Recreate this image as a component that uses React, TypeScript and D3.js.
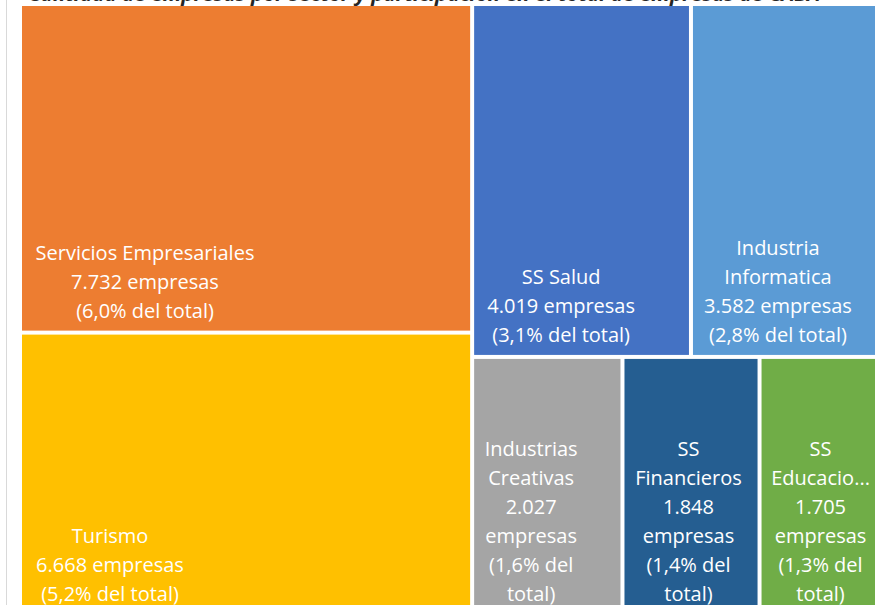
import React from "react";
import * as d3 from "d3";

const categories = [
  "Servicios Empresariales",
  "Turismo",
  "SS Salud",
  "Industria Informatica",
  "Industrias Creativas",
  "SS Financieros",
  "SS Educación",
];
const values = [7732, 6668, 4019, 3582, 2027, 1848, 1705];
const shares = [6.0, 5.2, 3.1, 2.8, 1.6, 1.4, 1.3];
const nameLines = [
  ["Servicios Empresariales"],
  ["Turismo"],
  ["SS Salud"],
  ["Industria", "Informatica"],
  ["Industrias", "Creativas"],
  ["SS", "Financieros"],
  ["SS", "Educacio..."],
];
const colors = ["#ED7D31", "#FFC000", "#4472C4", "#5B9BD5", "#A5A5A5", "#255E91", "#70AD47"];
const labelDx = [123, 88, 87, 85, 57, 64, 59];
const title = "Cantidad de empresas por sector y participación en el total de empresas de CABA";

const W = 875;
const H = 605;
const X0 = 22;
const Y0 = 6;
const TW = 862;
const TH = 608;
const LINE = 29;

const loc = d3.formatLocale({ decimal: ",", thousands: ".", grouping: [3], currency: ["$", ""] });
const fmtInt = loc.format(",d");
const fmtPct = loc.format(".1f");

export default function App() {
  const data = categories.map((c, i) => ({ name: c, value: values[i], idx: i }));
  const root = d3
    .hierarchy<any>({ children: data })
    .sum((d: any) => d.value || 0)
    .sort((a, b) => (b.value || 0) - (a.value || 0));
  d3.treemap<any>().tile(d3.treemapSquarify.ratio(1)).size([TW, TH]).paddingInner(4)(root);
  const leaves = root.leaves() as any[];

  return (
    <svg
      width={W}
      height={H}
      style={{ position: "absolute", left: 0, top: 0, background: "#fff", fontFamily: "'Open Sans', Lato, sans-serif" }}
    >
      <rect x={0} y={0} width={W} height={H} fill="#fff" />
      <line x1={6.5} x2={6.5} y1={0} y2={H} stroke="#d9d9d9" strokeWidth={1} />
      <text
        x={28}
        y={0.5}
        fontSize={20}
        fontStyle="italic"
        fontWeight="bold"
        fill="#262626"
        textLength={792}
        lengthAdjust="spacingAndGlyphs"
      >
        {title}
      </text>
      <g transform={`translate(${X0},${Y0})`}>
        {leaves.map((n) => {
          const i = n.data.idx;
          const w = n.x1 - n.x0;
          const vLines =
            w < 160
              ? [fmtInt(values[i]), "empresas", `(${fmtPct(shares[i])}% del`, "total)"]
              : [`${fmtInt(values[i])} empresas`, `(${fmtPct(shares[i])}% del total)`];
          const lines = [...nameLines[i], ...vLines];
          const lastBase = Math.min(n.y1, TH) - 13;
          const cx = n.x0 + labelDx[i];
          return (
            <g key={i}>
              <rect x={n.x0} y={n.y0} width={w} height={n.y1 - n.y0} fill={colors[i]} />
              <text textAnchor="middle" fill="#ffffff" fontSize={20}>
                {lines.map((l, k) => (
                  <tspan key={k} x={cx} y={lastBase - (lines.length - 1 - k) * LINE}>
                    {l}
                  </tspan>
                ))}
              </text>
            </g>
          );
        })}
      </g>
    </svg>
  );
}
